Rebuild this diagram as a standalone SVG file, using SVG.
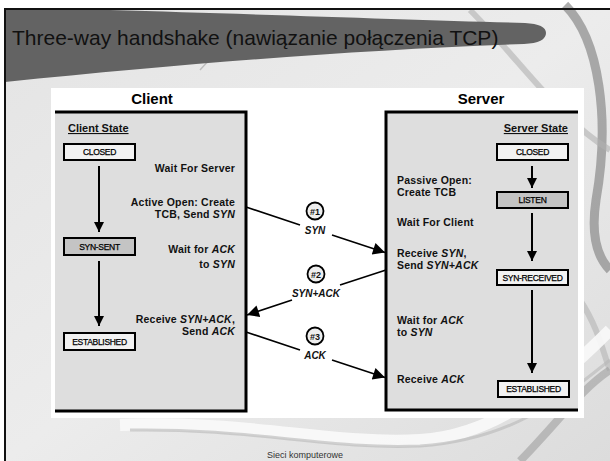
<svg xmlns="http://www.w3.org/2000/svg" width="610" height="461" viewBox="0 0 610 461">
  <defs>
    <linearGradient id="bgGrad" x1="0" y1="0" x2="1" y2="1">
      <stop offset="0" stop-color="#e4e4e4"/>
      <stop offset="0.5" stop-color="#ececec"/>
      <stop offset="1" stop-color="#dcdcdc"/>
    </linearGradient>
    <marker id="arrowHead" viewBox="0 0 10 10" refX="10" refY="5" markerWidth="10" markerHeight="10" markerUnits="userSpaceOnUse" orient="auto">
      <path d="M0,0 L10,5 L0,10 Z" fill="#000"/>
    </marker>
    <marker id="arrowBig" viewBox="0 0 10 10" refX="10" refY="5" markerWidth="14" markerHeight="12" markerUnits="userSpaceOnUse" orient="auto">
      <path d="M0,0 L10,5 L0,10 Z" fill="#000"/>
    </marker>
  </defs>
  <style>
    .title { font-family: "Liberation Sans", Arial, sans-serif; font-size: 21px; fill: #111; }
    .head { font-family: "Liberation Sans", Arial, sans-serif; font-size: 15px; font-weight: bold; fill: #000; }
    .lbl { font-family: "Liberation Sans", Arial, sans-serif; font-size: 10.5px; font-weight: bold; fill: #111; letter-spacing: 0.2px; }
    .state { font-family: "Liberation Sans", Arial, sans-serif; font-size: 11px; font-weight: bold; fill: #111; text-decoration: underline; }
    .box { stroke: #000; stroke-width: 2; }
    .boxtxt { font-family: "Liberation Sans", Arial, sans-serif; font-size: 8.5px; fill: #000; stroke: #000; stroke-width: 0.25; text-anchor: middle; letter-spacing: -0.3px; }
    .vline { stroke: #000; stroke-width: 2; fill: none; }
    .msg { stroke: #000; stroke-width: 1.6; fill: none; }
    .num { fill: #eee; stroke: #000; stroke-width: 1.8; }
    .numtxt { font-family: "Liberation Sans", Arial, sans-serif; font-size: 9px; font-weight: bold; fill: #111; text-anchor: middle; }
    .msgtxt { font-family: "Liberation Sans", Arial, sans-serif; font-size: 10px; font-weight: bold; font-style: italic; fill: #111; text-anchor: middle; }
    .panel { fill: #dedede; }
    .edge { stroke: #000; stroke-width: 3; fill: none; }
  </style>

  <!-- slide background -->
  <rect x="0" y="0" width="610" height="461" fill="#fff"/>
  <rect x="5" y="9" width="605" height="452" fill="url(#bgGrad)"/>
  <!-- decorative swooshes -->
  <path d="M565,5 C600,40 610,120 596,200 C590,240 600,260 610,270" stroke="#8a8a8a" stroke-width="9" fill="none" opacity="0.7"/>
  <path d="M470,10 C520,60 560,120 610,150" stroke="#b0b0b0" stroke-width="6" fill="none" opacity="0.6"/>
  <path d="M200,70 C215,55 225,40 235,20" stroke="#bdbdbd" stroke-width="1.5" fill="none"/>
  <path d="M580,300 C600,330 605,360 610,370" stroke="#bbbbbb" stroke-width="6" fill="none" opacity="0.7"/>
  <path d="M120,425 C250,420 330,445 420,440 C500,435 560,380 610,330" stroke="#fafafa" stroke-width="12" fill="none" opacity="0.9"/>
  <path d="M130,430 C250,428 330,450 420,446 C510,440 560,400 610,360" stroke="#b8b8b8" stroke-width="3" fill="none" opacity="0.6"/>
  <path d="M520,461 C560,420 580,390 610,370" stroke="#9e9e9e" stroke-width="8" fill="none" opacity="0.6"/>
  <!-- title band -->
  <path d="M5,10 L110,10 C250,14 420,20 525,23 Q546,24 546,33 Q546,43 524,44 C360,50 200,62 5,82 Z" fill="#636363"/>
  <!-- slide frame -->
  <path d="M5,461 L5,9 L610,9" stroke="#111" stroke-width="2" fill="none"/>

  <text class="title" x="12" y="45">Three-way handshake (nawiązanie połączenia TCP)</text>

  <!-- figure backdrop -->
  <rect x="51" y="88" width="533" height="330" fill="#fff"/>

  <!-- client side -->
  <g id="client">
    <text class="head" x="152" y="104" text-anchor="middle">Client</text>
    <rect class="panel" x="55" y="112" width="191" height="299"/>
    <path class="edge" d="M55,112 L246,112 L246,411 L55,411"/>
    <text class="state" x="68" y="132">Client State</text>
  </g>

  <g id="client-closed">
    <rect class="box" x="64" y="144" width="71" height="16" fill="#f2f2f2"/>
    <text class="boxtxt" x="99.5" y="155">CLOSED</text>
  </g>
  <g id="client-syn-sent">
    <rect class="box" x="64" y="238" width="71" height="17" fill="#c4c4c4"/>
    <text class="boxtxt" x="99.5" y="249.5">SYN-SENT</text>
  </g>
  <g id="client-established">
    <rect class="box" x="64" y="333" width="71" height="17" fill="#f2f2f2"/>
    <text class="boxtxt" x="99.5" y="344.5">ESTABLISHED</text>
  </g>

  <g id="client-notes" class="lbl" text-anchor="end">
    <text x="235" y="172">Wait For Server</text>
    <text x="235" y="206">Active Open: Create</text>
    <text x="235" y="218">TCB, Send <tspan font-style="italic">SYN</tspan></text>
    <text x="235" y="253">Wait for <tspan font-style="italic">ACK</tspan></text>
    <text x="235" y="268">to <tspan font-style="italic">SYN</tspan></text>
    <text x="235" y="323">Receive <tspan font-style="italic">SYN+ACK</tspan>,</text>
    <text x="235" y="335">Send <tspan font-style="italic">ACK</tspan></text>
  </g>

  <!-- server side -->
  <g id="server">
    <text class="head" x="481" y="104" text-anchor="middle">Server</text>
    <rect class="panel" x="386" y="112" width="192" height="298"/>
    <path class="edge" d="M578,112 L386,112 L386,410 L578,410"/>
    <text class="state" x="568" y="132" text-anchor="end">Server State</text>
  </g>

  <g id="server-closed">
    <rect class="box" x="497" y="144" width="71" height="16" fill="#f2f2f2"/>
    <text class="boxtxt" x="532.5" y="155">CLOSED</text>
  </g>
  <g id="server-listen">
    <rect class="box" x="497" y="192" width="71" height="16" fill="#c4c4c4"/>
    <text class="boxtxt" x="532.5" y="203">LISTEN</text>
  </g>
  <g id="server-syn-received">
    <rect class="box" x="497" y="270" width="71" height="15" fill="#f2f2f2"/>
    <text class="boxtxt" x="532.5" y="280.5">SYN-RECEIVED</text>
  </g>
  <g id="server-established">
    <rect class="box" x="498" y="381" width="71" height="16" fill="#f2f2f2"/>
    <text class="boxtxt" x="533.5" y="392">ESTABLISHED</text>
  </g>

  <g id="server-notes" class="lbl">
    <text x="397" y="184">Passive Open:</text>
    <text x="397" y="196">Create TCB</text>
    <text x="397" y="226">Wait For Client</text>
    <text x="397" y="257">Receive <tspan font-style="italic">SYN</tspan>,</text>
    <text x="397" y="269">Send <tspan font-style="italic">SYN+ACK</tspan></text>
    <text x="397" y="324">Wait for <tspan font-style="italic">ACK</tspan></text>
    <text x="397" y="336">to <tspan font-style="italic">SYN</tspan></text>
    <text x="397" y="383">Receive <tspan font-style="italic">ACK</tspan></text>
  </g>

  <!-- message labels -->
  <g id="msg1">
    <circle class="num" cx="315" cy="211" r="8.5"/>
    <text class="numtxt" x="315" y="214.5">#1</text>
    <text class="msgtxt" x="315" y="234">SYN</text>
  </g>
  <g id="msg2">
    <circle class="num" cx="316" cy="274" r="8.5"/>
    <text class="numtxt" x="316" y="277.5">#2</text>
    <text class="msgtxt" x="316" y="297">SYN+ACK</text>
  </g>
  <g id="msg3">
    <circle class="num" cx="315" cy="336" r="8.5"/>
    <text class="numtxt" x="315" y="339.5">#3</text>
    <text class="msgtxt" x="315" y="359">ACK</text>
  </g>

  <!-- connectors -->
  <g id="connectors">
    <!-- state transitions -->
    <line class="vline" x1="99" y1="166" x2="99" y2="232" marker-end="url(#arrowHead)"/>
    <line class="vline" x1="99" y1="261" x2="99" y2="326" marker-end="url(#arrowHead)"/>
    <line class="vline" x1="532" y1="166" x2="532" y2="188" marker-end="url(#arrowHead)"/>
    <line class="vline" x1="532" y1="213" x2="532" y2="261" marker-end="url(#arrowHead)"/>
    <line class="vline" x1="532" y1="290" x2="532" y2="373" marker-end="url(#arrowHead)"/>
    <!-- segments exchanged -->
    <line class="msg" x1="246" y1="207" x2="300" y2="225"/>
    <line class="msg" x1="332" y1="235" x2="385" y2="252.5" marker-end="url(#arrowBig)"/>
    <line class="msg" x1="386" y1="270" x2="340" y2="285"/>
    <line class="msg" x1="292" y1="300" x2="247" y2="315" marker-end="url(#arrowBig)"/>
    <line class="msg" x1="246" y1="332" x2="300" y2="350"/>
    <line class="msg" x1="332" y1="360" x2="385" y2="377.5" marker-end="url(#arrowBig)"/>
  </g>

  <!-- footer -->
  <text x="305" y="458" text-anchor="middle" font-family="'Liberation Sans', Arial, sans-serif" font-size="9" fill="#333">Sieci komputerowe</text>
</svg>
